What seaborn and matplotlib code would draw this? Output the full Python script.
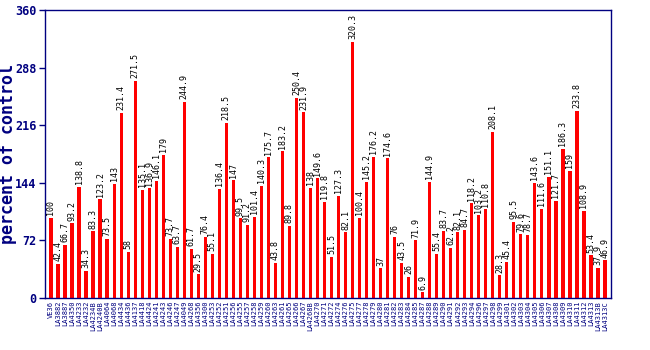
import matplotlib
matplotlib.use("Agg")
import matplotlib.pyplot as plt
import seaborn as sns
import pandas as pd

labels = ["VE36", "LA3882", "LA3887", "LA4350", "LA4233", "LA4232", "LA4234B", "LA4240B",
          "LA4064", "LA4068", "LA4434", "LA4436", "LA4137", "LA4418", "LA4424", "LA4241",
          "LA4243", "LA4246", "LA4247", "LA4049", "LA4268", "LA4356", "LA4300", "LA4253",
          "LA4252", "LA4251", "LA4256", "LA4255", "LA4257", "LA4258", "LA4259", "LA4260",
          "LA4263", "LA4261", "LA4265", "LA4266", "LA4267", "LA4268B", "LA4270", "LA4271",
          "LA4272", "LA4274", "LA4276", "LA4275", "LA4277", "LA4278", "LA4279", "LA4280",
          "LA4281", "LA4282", "LA4283", "LA4284", "LA4285", "LA4287", "LA4288", "LA4289",
          "LA4290", "LA4291", "LA4292", "LA4293", "LA4294", "LA4296", "LA4297", "LA4298",
          "LA4299", "LA4301", "LA4302", "LA4303", "LA4304", "LA4305", "LA4306", "LA4307",
          "LA4308", "LA4309", "LA4310", "LA4311", "LA4312", "LA4313", "LA4313B", "LA4313C"]

values = [100, 42.4, 66.7, 93.2, 138.8, 34.3, 83.3, 123.2, 73.5, 143, 231.4, 58, 271.5,
          135.1, 136.9, 146.1, 179, 73.7, 63.7, 244.9, 61.7, 29.5, 76.4, 55.1, 136.4, 218.5,
          147, 99.5, 91.2, 101.4, 140.3, 175.7, 43.8, 183.2, 89.8, 250.4, 231.9, 138, 149.6,
          119.8, 51.5, 127.3, 82.1, 320.3, 100.4, 145.2, 176.2, 37, 174.6, 76, 43.5, 26, 71.9,
          6.9, 144.9, 55.4, 83.7, 62.2, 82.1, 84.7, 118.2, 103.2, 110.8, 208.1, 28.3, 45.4,
          95.5, 79.6, 78.7, 143.6, 111.6, 151.1, 121.7, 186.3, 159, 233.8, 108.9, 53.4, 37.9,
          46.9]

yticks = [0, 72, 144, 216, 288, 360]

df = pd.DataFrame({"label": labels, "value": values})

sns.set_style("white")
plt.rcParams["font.family"] = ["DejaVu Sans Mono", "DejaVu Sans"]

navy = "#000080"
fig = plt.figure(figsize=(6.5, 3.5), dpi=100)
ax = fig.add_axes([45/650, 1-298/350, (611-45)/650, (298-10)/350])

sns.barplot(data=df, x="label", y="value", color="#ff0000", width=0.45,
            saturation=1, ax=ax, edgecolor="none")

for c in ax.containers:
    ax.bar_label(c, labels=[("%g" % v) for v in values], rotation=90, padding=2,
                 fontsize=6, color="black")

ax.set_ylim(0, 360)
ax.set_xlim(-0.85, len(values) - 1 + 0.85)
ax.set_yticks(yticks)
ax.set_yticklabels([str(t) for t in yticks], color=navy, fontsize=8.5, fontweight="bold")
ax.tick_params(axis="y", length=4, color=navy, width=1, left=True, pad=2)
ax.tick_params(axis="x", length=0, pad=2)
ax.set_xticks(range(len(labels)))
ax.set_xticklabels(labels, rotation=90, fontsize=5, color=navy)
ax.set_xlabel("")
ax.set_ylabel("percent of control", color=navy, fontsize=12, fontweight="bold")
ax.yaxis.set_label_coords(-0.049, 0.5)
for s in ax.spines.values():
    s.set_color(navy)
    s.set_linewidth(1)
    s.set_visible(True)

fig.savefig("out.png", dpi=100)
